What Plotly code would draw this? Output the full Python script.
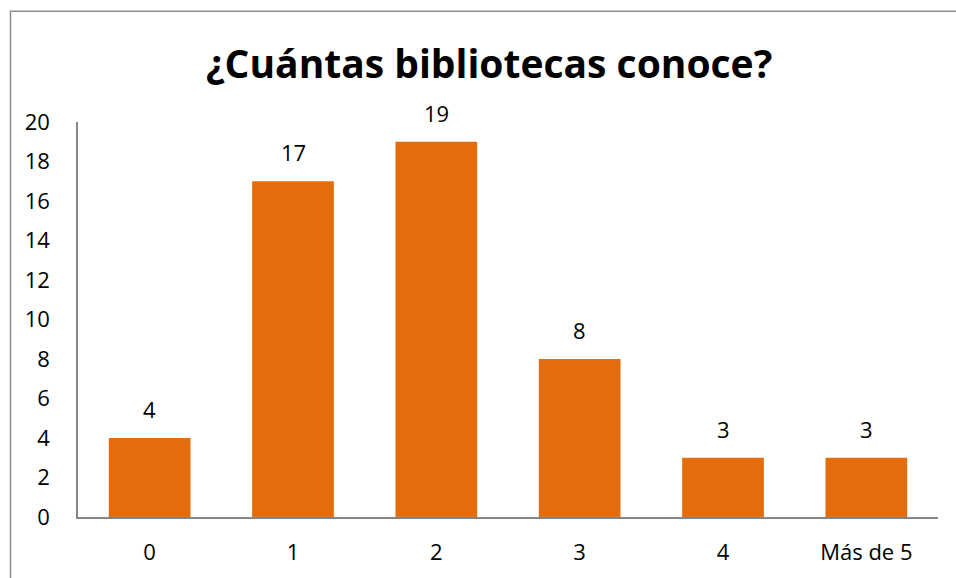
import plotly.graph_objects as go

categories = ["0", "1", "2", "3", "4", "Más de 5"]
values = [4, 17, 19, 8, 3, 3]
title_text = "¿Cuántas bibliotecas conoce?"

W, H = 956, 578
L, T = 78, 122
pw, ph = 860, 398
R = W - L - pw
B = H - T - ph

def px_x(px):
    return (px - L) / pw

def px_y(py):
    return (T + ph - py) / ph

bar_color = "#E46C0A"
axis_color = "#868686"
font_family = "'Open Sans', Lato, sans-serif"
tick_size = 22

fig = go.Figure()
fig.add_trace(go.Bar(
    x=categories, y=values,
    marker=dict(color=bar_color, line=dict(width=0)),
    width=0.57,
    hoverinfo="x+y",
))

annotations = []
for c, v in zip(categories, values):
    annotations.append(dict(
        x=c, y=v, xref="x", yref="y", text=str(v), showarrow=False,
        yanchor="bottom", yshift=12,
        font=dict(family=font_family, size=tick_size, color="#000000"),
    ))
annotations.append(dict(
    x=px_x(489), y=px_y(62), xref="paper", yref="paper", text="<b>" + title_text + "</b>",
    showarrow=False, xanchor="center", yanchor="middle",
    font=dict(family=font_family, size=39, color="#000000"),
))

fig.update_layout(
    width=W, height=H,
    margin=dict(l=L, r=R, t=T, b=B, pad=0),
    paper_bgcolor="white", plot_bgcolor="white",
    showlegend=False,
    annotations=annotations,
    shapes=[dict(type="rect", xref="paper", yref="paper",
                 x0=px_x(10.5), x1=px_x(1000), y0=px_y(10.5), y1=px_y(640),
                 line=dict(color="#8c8c8c", width=1.5), fillcolor="rgba(0,0,0,0)", layer="below")],
    xaxis=dict(
        showline=True, linecolor=axis_color, linewidth=1.5,
        showgrid=False, ticks="", zeroline=False,
        tickfont=dict(family=font_family, size=tick_size, color="#000000"),
        ticklabelstandoff=15,
    ),
    yaxis=dict(
        range=[0, 20], dtick=2, showline=True, linecolor=axis_color, linewidth=1.5,
        showgrid=False, ticks="", zeroline=False,
        tickfont=dict(family=font_family, size=tick_size, color="#000000"),
        ticklabelstandoff=22,
    ),
    bargap=0.43,
)

fig.write_html(
    "out.html",
    config={"displayModeBar": False},
    post_script="document.body.style.margin='0';document.body.style.overflow='hidden';",
)
